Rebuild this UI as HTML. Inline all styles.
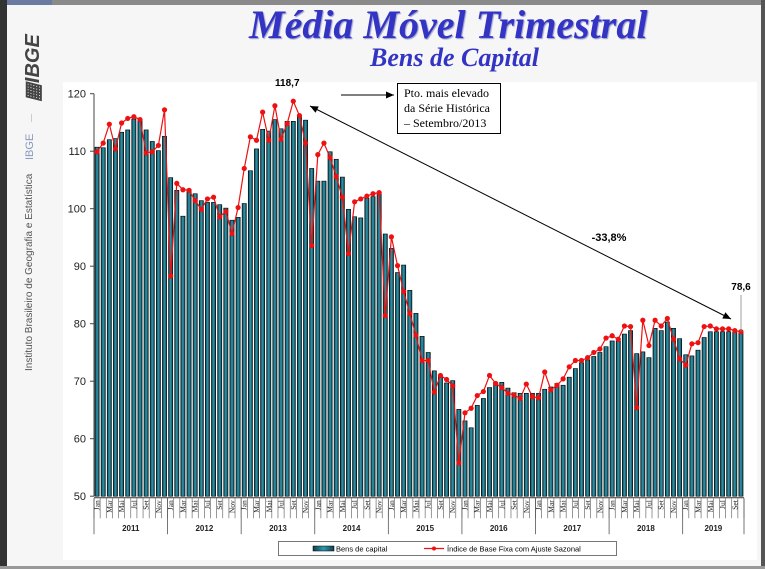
<!DOCTYPE html>
<html><head><meta charset="utf-8"><style>
html,body{margin:0;padding:0;}
body{width:765px;height:569px;overflow:hidden;background:#f6f6f7;position:relative;font-family:"Liberation Sans",sans-serif;}
</style></head><body>
<div style="position:absolute;left:0;top:0;width:765px;height:5px;background:#8a8a8a"></div>
<div style="position:absolute;left:7px;top:0;width:45px;height:5px;background:#6a7aa0"></div>
<div style="position:absolute;left:0;top:0;width:7px;height:569px;background:#333"></div>
<div style="position:absolute;left:761px;top:0;width:4px;height:569px;background:#555"></div>
<div style="position:absolute;left:0;top:566px;width:765px;height:3px;background:#999"></div>
<div style="position:absolute;left:249px;top:1px;font:italic bold 40px 'Liberation Serif',serif;color:#3333c4;text-shadow:1px 1px 1px #9999cc;white-space:nowrap">Média Móvel Trimestral</div>
<div style="position:absolute;left:370px;top:43px;font:italic bold 26px 'Liberation Serif',serif;color:#3333c4;white-space:nowrap">Bens de Capital</div>
<div style="position:absolute;left:20px;top:102px;transform:rotate(-90deg);transform-origin:left top;font:italic bold 20px 'Liberation Sans',sans-serif;color:#444;white-space:nowrap">▦IBGE</div>
<div style="position:absolute;left:31px;top:114px;width:1px;height:8px;background:#ccc"></div>
<div style="position:absolute;left:24px;top:160px;transform:rotate(-90deg);transform-origin:left top;font:11px 'Liberation Sans',sans-serif;color:#8899bb;white-space:nowrap">IBGE</div>
<div style="position:absolute;left:24px;top:371px;transform:rotate(-90deg);transform-origin:left top;font:10px 'Liberation Sans',sans-serif;color:#555;white-space:nowrap">Instituto Brasileiro de Geografia e Estatística</div>
<div style="position:absolute;left:63px;top:82px;width:694px;height:478px;background:#fff"></div>
<svg id="chart" width="765" height="569" style="position:absolute;left:0;top:0">
<defs><linearGradient id="bg" x1="0" x2="1" y1="0" y2="0"><stop offset="0" stop-color="#0d3f4d"/><stop offset="0.5" stop-color="#2f98ad"/><stop offset="1" stop-color="#0d3f4d"/></linearGradient></defs>
</svg>
<div style="position:absolute;left:397px;top:83px;width:104px;height:51px;border:1px solid #000;background:#fff;font:12px 'Liberation Serif',serif;line-height:15px;padding:2px 0 0 6px;box-sizing:border-box">Pto. mais elevado<br>da Série Histórica<br>– Setembro/2013</div>
<script>
const years=['2011','2012','2013','2014','2015','2016','2017','2018','2019'];
const monthNames=['Jan','','Mar','','Mai','','Jul','','Set','','Nov',''];
const yTicks=[50,60,70,80,90,100,110,120];
const bars=[110.7,110.6,112.0,112.2,113.3,113.7,115.6,115.5,113.7,111.7,110.1,112.6,
105.4,103.2,98.7,103.4,102.6,101.4,101.1,101.1,100.7,100.1,98.0,98.5,
100.9,106.6,110.4,113.8,113.5,115.5,113.9,115.2,115.2,116.2,115.4,107.0,
104.8,104.8,109.9,108.6,105.5,99.9,98.6,98.4,101.8,102.1,102.7,95.6,
93.1,88.9,90.2,85.8,81.8,77.8,75.0,71.8,70.8,69.7,70.1,65.1,
63.1,61.9,65.8,67.0,68.9,69.8,69.8,68.8,68.0,67.9,67.9,67.9,
67.9,68.6,69.0,69.6,69.3,70.7,72.2,73.2,73.7,74.3,75.0,76.0,
77.0,77.0,78.2,78.8,74.8,75.1,74.1,79.2,78.8,80.3,79.2,77.4,
74.6,74.4,75.4,77.6,78.6,78.6,78.6,78.6,78.5,78.5];
const line=[109.9,111.4,114.7,110.4,114.9,115.7,116.0,115.5,109.7,109.9,111.0,117.2,
88.3,104.4,103.3,103.2,101.4,99.9,101.7,102.0,98.6,99.5,95.7,100.2,
107.0,112.5,111.9,116.8,111.9,117.9,112.1,114.8,118.7,116.2,111.4,93.6,
109.4,111.4,108.9,105.6,102.0,92.2,101.2,101.7,102.2,102.6,102.8,81.4,
95.1,90.1,85.6,81.8,78.0,73.6,73.6,68.1,71.0,70.3,69.2,55.8,
64.5,65.3,67.5,68.2,71.0,69.6,68.9,67.9,67.6,67.0,69.5,67.3,
67.1,71.6,68.5,69.3,70.4,72.5,73.6,73.6,74.1,75.0,75.6,77.5,
77.9,77.3,79.6,79.5,65.4,80.6,76.2,80.6,79.6,80.9,77.3,73.9,
72.8,76.5,76.7,79.5,79.6,79.1,79.1,79.1,78.8,78.6];
const svg=document.getElementById('chart');
const NS='http://www.w3.org/2000/svg';
const x0=94,x1=744,yTop=93.7,yBot=496.2,vMin=50,vMax=120;
const n=bars.length, step=(x1-x0)/n;
const X=i=>x0+step*(i+0.5);
const Y=v=>yBot-(v-vMin)/(vMax-vMin)*(yBot-yTop);
function mk(t,a){const e=document.createElementNS(NS,t);for(const k in a)e.setAttribute(k,a[k]);svg.appendChild(e);return e;}
let ax=mk('line',{x1:x0,y1:yTop,x2:x0,y2:yBot,stroke:'#444','stroke-width':1});


yTicks.forEach(v=>{
 const t=mk('line',{x1:x0-4,x2:x0,y1:Y(v),y2:Y(v),stroke:'#444'});
 
 
 const l=mk('text',{x:x0-8,y:Y(v)+4,'text-anchor':'end','font-size':'11','font-family':'Liberation Sans, sans-serif',fill:'#222'});
 l.textContent=v;
 
 
});
bars.forEach((v,i)=>{
 const r=mk('rect',{x:X(i)-2.1,y:Y(v),width:4.2,height:yBot-Y(v),fill:'url(#bg)',stroke:'#000','stroke-width':0.6});
 
 
});
let xa=mk('line',{x1:x0,y1:yBot+1.5,x2:x1,y2:yBot+1.5,stroke:'#333','stroke-width':1});


for(let i=0;i<=n;i++){
 const t=mk('line',{x1:x0+step*i,x2:x0+step*i,y1:yBot+2,y2:yBot+22,stroke:'#555','stroke-width':0.6});
 
 
}
for(let i=0;i<n;i++){
 const m=monthNames[i%12]; if(!m) continue;
 const cx=X(i)+2.5, cy=yBot+4;
 const l=mk('text',{x:cx,y:cy,transform:`rotate(-90 ${cx} ${cy})`,'text-anchor':'end','font-size':'7.5','font-family':'Liberation Serif, serif',fill:'#222'});
 l.textContent=m;
 
 
}
years.forEach((yr,k)=>{
 const s=k*12, e=Math.min(n,(k+1)*12);
 const sep=mk('line',{x1:x0+step*s,x2:x0+step*s,y1:yBot+2,y2:yBot+38,stroke:'#555','stroke-width':0.8});
 
 
 const l=mk('text',{x:x0+step*(s+e)/2,y:yBot+35,'text-anchor':'middle','font-size':'8','font-weight':'bold','font-family':'Liberation Sans, sans-serif',fill:'#222'});
 l.textContent=yr;
 
 
});
let se=mk('line',{x1:x1,x2:x1,y1:yBot+2,y2:yBot+38,stroke:'#555','stroke-width':0.8});


const pl=mk('polyline',{points:line.map((v,i)=>X(i)+','+Y(v)).join(' '),fill:'none',stroke:'#ee1111','stroke-width':1.2});


line.forEach((v,i)=>{
 const c=mk('circle',{cx:X(i),cy:Y(v),r:2.6,fill:'#ee1111'});
 
 
});
const peakI=32, lastI=n-1;
let a1=mk('text',{x:X(peakI)-6,y:Y(line[peakI])-15,'text-anchor':'middle','font-size':'10','font-weight':'bold','font-family':'Liberation Sans, sans-serif'});
a1.textContent='118,7';


let a2=mk('text',{x:741,y:290,'text-anchor':'middle','font-size':'10','font-weight':'bold','font-family':'Liberation Sans, sans-serif'});
a2.textContent='78,6';


let lead=mk('line',{x1:741,y1:295,x2:741,y2:Y(line[lastI]),stroke:'#888','stroke-width':0.8});


let a3=mk('text',{x:609,y:241,'text-anchor':'middle','font-size':'11','font-weight':'bold','font-family':'Liberation Sans, sans-serif'});
a3.textContent='-33,8%';


function head(xa,ya,xb,yb,name){
 const ang=Math.atan2(yb-ya,xb-xa),L=8,W=3.5;
 const p=[[xb,yb],[xb-L*Math.cos(ang)+W*Math.sin(ang),yb-L*Math.sin(ang)-W*Math.cos(ang)],[xb-L*Math.cos(ang)-W*Math.sin(ang),yb-L*Math.sin(ang)+W*Math.cos(ang)]];
 const h=mk('polygon',{points:p.map(q=>q.join(',')).join(' '),fill:'#000'});
 
 
}
let tr=mk('line',{x1:310,y1:106,x2:731,y2:319,stroke:'#000','stroke-width':1});


head(731,319,310,106,'trend-arrow-head-peak');
head(310,106,731,319,'trend-arrow-head-last');
let an=mk('line',{x1:341,y1:95,x2:394,y2:95,stroke:'#000','stroke-width':1});


head(341,95,394,95,'annotation-arrow-head');
let lb=mk('rect',{x:278.5,y:541.5,width:338,height:14,fill:'#fff',stroke:'#555','stroke-width':0.8});


let lr=mk('rect',{x:313,y:546,width:21,height:5,fill:'url(#bg)',stroke:'#000','stroke-width':0.5});


let lt1=mk('text',{x:336,y:551.5,'font-size':'7.5','font-family':'Liberation Sans, sans-serif'});
lt1.textContent='Bens de capital';


let ll=mk('line',{x1:424,x2:444,y1:548.5,y2:548.5,stroke:'#ee1111','stroke-width':1.2});


let lc=mk('circle',{cx:434,cy:548.5,r:2,fill:'#ee1111'});


let lt2=mk('text',{x:447,y:551.5,'font-size':'7.5','font-family':'Liberation Sans, sans-serif'});
lt2.textContent='Índice de Base Fixa com Ajuste Sazonal';


</script>
</body></html>
